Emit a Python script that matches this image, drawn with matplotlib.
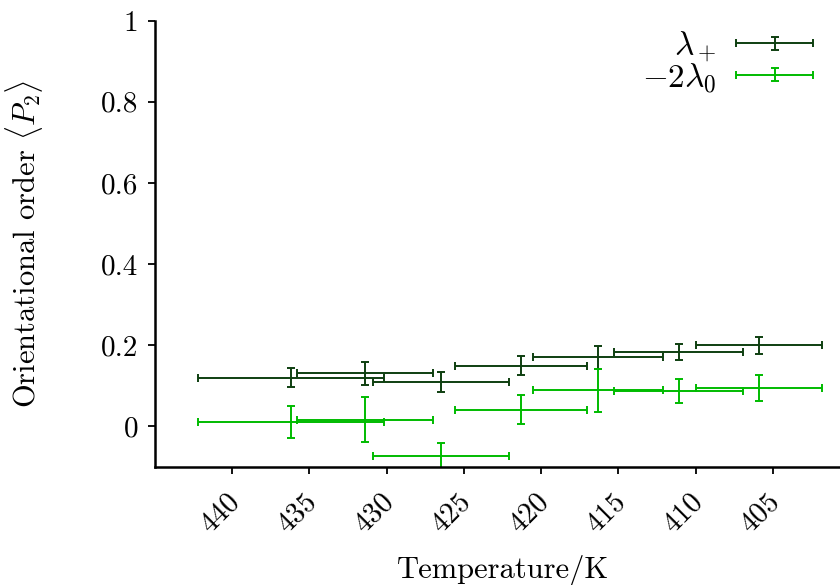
import matplotlib
matplotlib.use("Agg")
import matplotlib.pyplot as plt
import matplotlib.transforms as mtransforms
from matplotlib.legend_handler import HandlerErrorbar
from matplotlib.container import ErrorbarContainer

plt.rcParams['font.family'] = 'serif'
plt.rcParams['font.serif'] = ['cmr10']
plt.rcParams['mathtext.fontset'] = 'cm'
plt.rcParams['axes.unicode_minus'] = False

# temperature (K) and half-width of the temperature window
temp = [436.2, 431.4, 426.5, 421.3, 416.3, 411.1, 405.9]
temp_err = [6.0, 4.4, 4.4, 4.3, 4.2, 4.2, 4.1]

# lambda_+
lam_plus = [0.120, 0.130, 0.109, 0.149, 0.170, 0.183, 0.199]
lam_plus_err = [0.023, 0.028, 0.024, 0.024, 0.028, 0.019, 0.020]

# -2 lambda_0
lam_zero = [0.011, 0.016, -0.073, 0.041, 0.089, 0.087, 0.094]
lam_zero_err = [0.039, 0.055, 0.031, 0.035, 0.053, 0.030, 0.031]

xticks = [440, 435, 430, 425, 420, 415, 410, 405]
yticks = [0, 0.2, 0.4, 0.6, 0.8, 1]
ytick_labels = ['0', '0.2', '0.4', '0.6', '0.8', '1']

dark = '#0e3f10'
light = '#00bb00'

fig = plt.figure(figsize=(8.4, 5.85), dpi=100)
ax = fig.add_axes([0.1845, 0.2022, 0.8275, 0.7624])

ax.errorbar(temp, lam_plus, xerr=temp_err, yerr=lam_plus_err, fmt='none',
            ecolor=dark, elinewidth=1.4, capsize=3, capthick=1.4, label=r'$\lambda_+$')
ax.errorbar(temp, lam_zero, xerr=temp_err, yerr=lam_zero_err, fmt='none',
            ecolor=light, elinewidth=1.4, capsize=3, capthick=1.4, label=r'$-2\lambda_0$')

ax.set_xlim(445, 400)
ax.set_ylim(-0.1, 1)
ax.set_xticks(xticks)
ax.set_xticklabels([str(t) for t in xticks], rotation=45, ha='right',
                   rotation_mode='anchor', fontsize=21)
ax.set_yticks(yticks)
ax.set_yticklabels(ytick_labels, fontsize=21)

ax.spines['top'].set_visible(False)
ax.spines['right'].set_visible(False)
ax.spines['left'].set_linewidth(1.8)
ax.spines['bottom'].set_linewidth(1.8)
ax.tick_params(direction='out', length=5, width=1.3, pad=7)

# nudge the rotated x labels (after tick_params, which resets transforms)
offset = mtransforms.ScaledTranslation(-6 / 100, -5 / 100, fig.dpi_scale_trans)
for lab in ax.get_xticklabels():
    lab.set_transform(lab.get_transform() + offset)

ax.set_xlabel('Temperature/K', fontsize=22, labelpad=12)
ax.set_ylabel(r'Orientational order $\langle P_2\rangle$', fontsize=22, labelpad=40)

leg = ax.legend(loc='upper left', bbox_to_anchor=(0.681, 1.01), frameon=False,
                markerfirst=False, fontsize=24, handlelength=2.3,
                handletextpad=0.6, labelspacing=-0.1, borderaxespad=0,
                handler_map={ErrorbarContainer: HandlerErrorbar(xerr_size=1.15, yerr_size=0.2)})

fig.savefig('out.png', dpi=100)
